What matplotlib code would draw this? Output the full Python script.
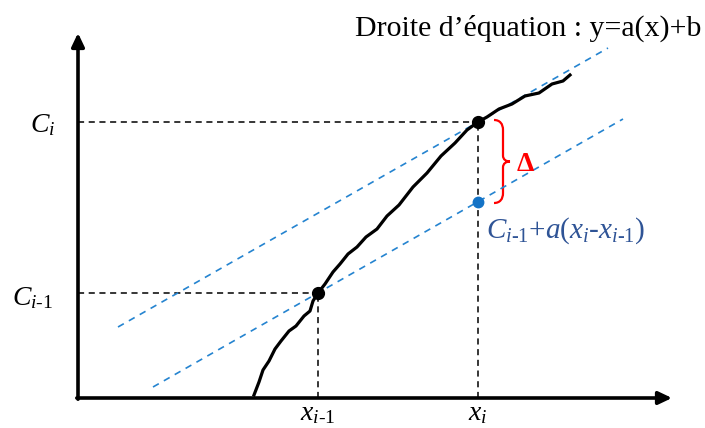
"""
Schéma : droite d'équation y = a(x) + b et écart Delta entre C_i et
la prédiction linéaire C_{i-1} + a(x_i - x_{i-1}).
"""

import matplotlib

matplotlib.use("Agg")
import matplotlib.pyplot as plt  # noqa: E402
from matplotlib.path import Path  # noqa: E402
from matplotlib.patches import PathPatch  # noqa: E402

# Police serif (équivalent Times) pour le texte et le mathtext.
plt.rcParams["font.family"] = ["Liberation Serif", "DejaVu Serif"]
plt.rcParams["mathtext.fontset"] = "custom"
plt.rcParams["mathtext.rm"] = "Liberation Serif"
plt.rcParams["mathtext.it"] = "Liberation Serif:italic"
plt.rcParams["mathtext.bf"] = "Liberation Serif:bold"

# --- Données (origine des axes = (0, 0)) ------------------------------------
# Courbe tracée à main levée : légères irrégularités conservées.
courbe_x = [176, 181, 185, 191, 197, 203, 211, 218, 226, 232, 235, 240,
            247, 255, 262, 270, 279, 288, 299, 309, 321, 335, 349, 363,
            377, 389, 400, 409, 421, 434, 447, 461, 474, 485, 492]
courbe_y = [3, 16, 28, 37, 49, 57, 67, 72, 82, 87, 97, 105,
            114, 126, 134, 144, 151, 161, 169, 182, 193, 211, 225, 242,
            255, 268, 276, 281, 289, 294, 302, 305, 314, 317, 323]

x_prec, c_prec = 240, 105        # (x_{i-1}, C_{i-1})
x_cour, c_cour = 400, 276        # (x_i, C_i)
c_predit = 196                   # C_{i-1} + a(x_i - x_{i-1})

droite_haut_x = [40, 530]        # droite passant par (x_i, C_i)
droite_haut_y = [71, 350]
droite_bas_x = [75, 545]         # droite passant par (x_{i-1}, C_{i-1})
droite_bas_y = [11, 279]

x_fin_axe, y_fin_axe = 594, 365

etiquettes_y = [r"$C_i$", r"$C_{i\text{-}\mathit{1}}$"]
etiquettes_x = [r"$x_{i\text{-}\mathit{1}}$", r"$x_i$"]
titre = "Droite d’équation : y=a(x)+b"
etiquette_predit = (r"$C_{i\text{-}\mathit{1}}{+}a(x_i\text{-}"
                    r"x_{i\text{-}\mathit{1}})$")

NOIR = "black"
BLEU_LIGNE = "#2584d0"
BLEU_POINT = "#1473c6"
BLEU_TEXTE = "#2f5496"
ROUGE = "#ff0000"

fig = plt.figure(figsize=(7.05, 4.28), dpi=100)
ax = fig.add_axes([0, 0, 1, 1])
ax.set_xlim(-78, 627)
ax.set_ylim(-30, 398)
ax.axis("off")

# Axes avec flèches.
fleche = dict(arrowstyle="-|>,head_length=0.8,head_width=0.38",
              color=NOIR, lw=2.6, shrinkA=0, shrinkB=0)
ax.annotate("", xy=(x_fin_axe, 0), xytext=(-1.2, 0), arrowprops=fleche)
ax.annotate("", xy=(0, y_fin_axe), xytext=(0, -1.2), arrowprops=fleche)

# Pointillés de projection.
tirets_noirs = dict(color=NOIR, lw=1.1, dashes=(4, 3))
ax.plot([0, x_cour], [c_cour, c_cour], **tirets_noirs)
ax.plot([0, x_prec], [c_prec, c_prec], **tirets_noirs)
ax.plot([x_cour, x_cour], [0, c_cour], **tirets_noirs)
ax.plot([x_prec, x_prec], [0, c_prec], **tirets_noirs)

# Droites de pente a.
tirets_bleus = dict(color=BLEU_LIGNE, lw=1.2, dashes=(4, 3.5))
ax.plot(droite_haut_x, droite_haut_y, **tirets_bleus)
ax.plot(droite_bas_x, droite_bas_y, **tirets_bleus)

# Courbe et points.
ax.plot(courbe_x, courbe_y, color=NOIR, lw=2.3, solid_joinstyle="round")
ax.plot([x_prec, x_cour], [c_prec, c_cour], "o", color=NOIR, ms=8.5)
ax.plot([x_cour], [c_predit], "o", color=BLEU_POINT, ms=7.5)

# Accolade rouge entre C_i et la valeur prédite.
haut, bas, gauche, droite, pointe = 278, 195, 416, 425, 432
milieu = (haut + bas) / 2
sommets = [
    (gauche, haut), (gauche + 6, haut), (droite, haut - 4), (droite, haut - 10),
    (droite, milieu + 6),
    (droite, milieu + 2), (pointe - 4, milieu), (pointe, milieu),
    (pointe - 4, milieu), (droite, milieu - 2), (droite, milieu - 6),
    (droite, bas + 10),
    (droite, bas + 4), (gauche + 6, bas), (gauche, bas),
]
codes = ([Path.MOVETO] + [Path.CURVE4] * 3 + [Path.LINETO]
         + [Path.CURVE4] * 6 + [Path.LINETO] + [Path.CURVE4] * 3)
ax.add_patch(PathPatch(Path(sommets, codes), fill=False,
                       edgecolor=ROUGE, lw=1.6))
ax.text(439, milieu - 3, "Δ", color=ROUGE, fontsize=20,
        fontweight="bold", ha="left", va="center")

# Étiquettes des axes.
ax.text(-23, c_cour - 3, etiquettes_y[0], fontsize=20, ha="right", va="center")
ax.text(-25, c_prec - 5, etiquettes_y[1], fontsize=20, ha="right", va="center")
ax.text(x_prec, -16, etiquettes_x[0], fontsize=20, ha="center", va="center")
ax.text(x_cour, -16, etiquettes_x[1], fontsize=20, ha="center", va="center")

ax.text(408, 167, etiquette_predit, fontsize=21, color=BLEU_TEXTE,
        ha="left", va="center")
ax.text(277, 370, titre, fontsize=21.5, ha="left", va="center")

fig.savefig("out.png", dpi=100)
plt.close(fig)
